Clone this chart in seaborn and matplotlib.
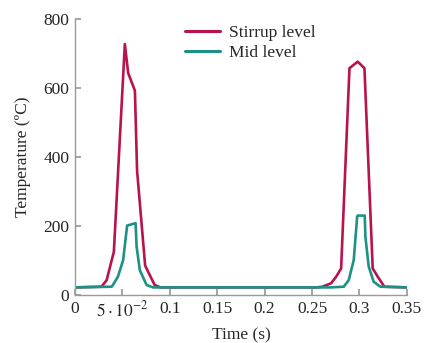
import matplotlib
matplotlib.use("Agg")
import matplotlib.pyplot as plt
import seaborn as sns
import pandas as pd

# Data
stirrup_t = [0.0, 0.028, 0.0334, 0.041, 0.0526, 0.0561, 0.0632, 0.0655, 0.074, 0.084, 0.09,
             0.255, 0.261, 0.2702, 0.2755, 0.2807, 0.2895, 0.2982, 0.3053, 0.314, 0.3193, 0.3263, 0.35]
stirrup_v = [22, 24, 43, 125, 727, 643, 592, 360, 85, 29, 22,
             22, 24, 34, 53, 77, 657, 676, 657, 77, 53, 24, 22]
mid_t = [0.0, 0.0386, 0.04, 0.0453, 0.0508, 0.055, 0.0639, 0.065, 0.0684, 0.0755, 0.0824,
         0.27, 0.2835, 0.2887, 0.294, 0.2976, 0.2982, 0.3056, 0.3063, 0.3098, 0.3151, 0.3221, 0.35]
mid_v = [22, 24, 29, 53, 101, 201, 208, 140, 72, 29, 22,
         22, 24, 43, 101, 227, 230, 230, 169, 82, 38, 24, 22]
series_names = ["Stirrup level", "Mid level"]
xticks = [0, 0.05, 0.1, 0.15, 0.2, 0.25, 0.3, 0.35]
xtick_labels = ["0", r"$5\cdot10^{-2}$", "0.1", "0.15", "0.2", "0.25", "0.3", "0.35"]
yticks = [0, 200, 400, 600, 800]

df = pd.concat([
    pd.DataFrame({"Time": stirrup_t, "Temp": stirrup_v, "Series": series_names[0]}),
    pd.DataFrame({"Time": mid_t, "Temp": mid_v, "Series": series_names[1]}),
], ignore_index=True)

sns.set_theme(style="white")
plt.rcParams["font.family"] = ["Liberation Serif", "DejaVu Serif"]
plt.rcParams["mathtext.fontset"] = "stix"

FS = 12.5
fig = plt.figure(figsize=(4.26, 3.43), dpi=100)
ax = fig.add_axes([0.176, 0.14, 0.779, 0.805])

palette = {"Stirrup level": "#B8134F", "Mid level": "#1C9284"}
sns.lineplot(data=df, x="Time", y="Temp", hue="Series", palette=palette,
             estimator=None, sort=False, linewidth=1.9, ax=ax)

ax.set_xlim(0, 0.35)
ax.set_ylim(0, 800)
ax.set_xticks(xticks)
ax.set_xticklabels(xtick_labels)
ax.set_yticks(yticks)
ax.tick_params(direction="in", length=4, color="#9a9a9a", labelsize=FS, pad=4,
               bottom=True, left=True)
for side in ["top", "right"]:
    ax.spines[side].set_visible(False)
for side in ["left", "bottom"]:
    ax.spines[side].set_color("#9a9a9a")
    ax.spines[side].set_linewidth(1.0)

ax.set_xlabel("Time (s)", fontsize=FS, labelpad=5)
ax.set_ylabel("Temperature (ºC)", fontsize=FS, labelpad=9)

leg = ax.legend(loc="upper left", bbox_to_anchor=(0.285, 1.035), frameon=False,
                fontsize=FS, handlelength=2.0, handletextpad=0.5, labelspacing=0.2)
for line in leg.get_lines():
    line.set_linewidth(2.2)

fig.savefig("out.png", dpi=100)
